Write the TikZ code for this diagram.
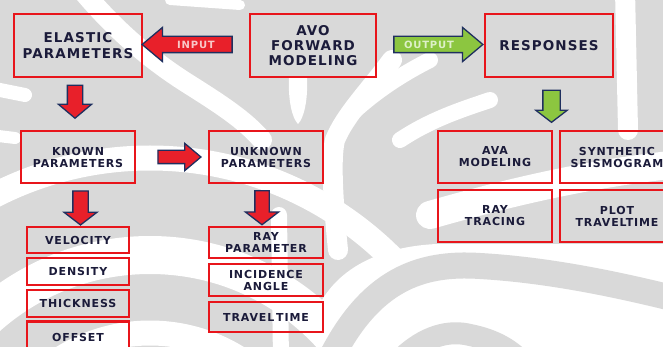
\documentclass[tikz,border=0pt]{standalone}
\usepackage{fontspec}
\setmainfont{DejaVu Sans}
\newfontfamily\boxf[LetterSpace=8]{DejaVu Sans}
\usetikzlibrary{shapes.arrows}
\definecolor{bggrey}{HTML}{D9D9D9}
\definecolor{boxred}{HTML}{E8151B}
\definecolor{navy}{HTML}{1F2F5F}
\definecolor{txt}{HTML}{1B1B3A}
\definecolor{arrred}{HTML}{E8202A}
\definecolor{arrgreen}{HTML}{8CC640}
\definecolor{inlbl}{HTML}{F8C8C8}
\definecolor{outlbl}{HTML}{DDF0C8}
\tikzset{
  box/.style={draw=boxred, line width=2.4pt, inner sep=0pt, align=center, text=txt},
  bigtext/.style={font=\boxf\bfseries\fontsize{13.5}{16}\selectfont},
  avotext/.style={font=\boxf\bfseries\fontsize{13.5}{15}\selectfont},
  smalltext/.style={font=\boxf\bfseries\fontsize{11}{12}\selectfont},
  fat/.style={single arrow, draw=navy, line width=1.3pt, inner xsep=0pt, minimum width=0pt},
  redfat/.style={fat, fill=arrred},
  greenfat/.style={fat, fill=arrgreen},
  arrlbl/.style={font=\boxf\bfseries\fontsize{10}{12}\selectfont, inner sep=0pt},
  wstripe/.style={draw=white, line cap=round},
  gstripe/.style={draw=bggrey, line cap=round}
}
\begin{document}
\begin{tikzpicture}[x=1pt,y=-1pt]
\useasboundingbox (0,0) rectangle (663,347);
\clip (0,0) rectangle (663,347);
% background watermark
\fill[bggrey] (0,0) rectangle (663,347);
\begin{scope}
% upper part
\draw[wstripe, line width=20] (80,-12) .. controls (115,30) and (150,60) .. (190,85) .. controls (220,104) and (245,120) .. (262,140);
\draw[wstripe, line width=14] (-10,88) -- (25,95);
\draw[wstripe, line width=12] (-10,135) -- (15,138);
\fill[white] (289,78) .. controls (288,100) and (292,118) .. (298,124) .. controls (304,118) and (308,100) .. (307,78) -- cycle;
\draw[wstripe, line width=20] (392,60) .. controls (370,90) and (345,115) .. (335,140) .. controls (330,160) and (334,210) .. (338,250);
\draw[wstripe, line width=16] (345,120) .. controls (370,95) and (400,75) .. (430,60);
\draw[wstripe, line width=16] (400,140) .. controls (430,120) and (460,110) .. (490,100);
\draw[wstripe, line width=20] (625,-10) -- (628,130);
\draw[wstripe, line width=10] (170,0) -- (240,5);
\draw[wstripe, line width=28] (430,215) .. controls (500,195) and (580,175) .. (670,165);
% lower left arcs
\draw[wstripe, line width=25] (150,500) circle (342);
\draw[wstripe, line width=38] (150,500) circle (245);
\draw[wstripe, line width=25] (150,500) circle (167);
\draw[wstripe, line width=16] (279,215) -- (281,360);
% lower right
\fill[white] (322,350) -- (322,300) .. controls (345,262) and (390,246) .. (437,244) -- (670,244) -- (670,350) -- cycle;
\draw[gstripe, line width=26] (330,360) .. controls (370,280) and (420,262) .. (480,266) .. controls (550,270) and (620,285) .. (680,300);
\draw[gstripe, line width=22] (400,360) .. controls (425,335) and (450,330) .. (470,335) .. controls (495,340) and (510,350) .. (520,360);
\end{scope}
% boxes
\node[box, bigtext, minimum width=127.6, minimum height=62.6] (elastic) at (78,45.5) {ELASTIC\\PARAMETERS};
\node[box, avotext, minimum width=125.6, minimum height=62.6] (avo) at (313,45.5) {AVO\\FORWARD\\MODELING};
\node[box, bigtext, minimum width=127.6, minimum height=62.6] (resp) at (549,45.5) {RESPONSES};
\node[box, smalltext, minimum width=113.6, minimum height=51.6] (known) at (78,157) {KNOWN\\PARAMETERS};
\node[box, smalltext, minimum width=113.6, minimum height=51.6] (unknown) at (266,157) {UNKNOWN\\PARAMETERS};
\node[box, smalltext, minimum width=113.6, minimum height=51.6] (ava) at (495,157) {AVA\\MODELING};
\node[box, smalltext, minimum width=113.6, minimum height=51.6] (synth) at (617,157) {SYNTHETIC\\SEISMOGRAM};
\node[box, smalltext, minimum width=113.6, minimum height=51.6] (raytr) at (495,216) {RAY\\TRACING};
\node[box, smalltext, minimum width=113.6, minimum height=51.6] (plot) at (617,216) {PLOT\\TRAVELTIME};
\node[box, smalltext, minimum width=101.6, minimum height=25.6] (velocity) at (78,240) {VELOCITY};
\node[box, smalltext, minimum width=101.6, minimum height=26.6] (density) at (78,271.5) {DENSITY};
\node[box, smalltext, minimum width=101.6, minimum height=26.6] (thickness) at (78,303.5) {THICKNESS};
\node[box, smalltext, minimum width=101.6, minimum height=33, text depth=0pt] (offset) at (78,338) {\raisebox{2pt}{OFFSET}};
\node[box, smalltext, minimum width=113.6, minimum height=30.6] (raypar) at (266,242.5) {RAY\\PARAMETER};
\node[box, smalltext, minimum width=113.6, minimum height=31.6] (incid) at (266,280) {INCIDENCE\\ANGLE};
\node[box, smalltext, minimum width=113.6, minimum height=29.6] (travel) at (266,317) {TRAVEL\,TIME};
% fat arrow connectors
\node[redfat, rotate=180, minimum height=90, inner ysep=7.5, single arrow head extend=9, single arrow tip angle=80] (inarr) at (192,44.5) {};
\node[arrlbl, text=inlbl] (inlabel) at (196,44.5) {INPUT};
\node[greenfat, minimum height=89, inner ysep=7.5, single arrow head extend=9, single arrow tip angle=80] (outarr) at (433.5,44.5) {};
\node[arrlbl, text=outlbl] (outlabel) at (429,44.5) {OUTPUT};
\node[redfat, rotate=-90, minimum height=33, inner ysep=7, single arrow head extend=9, single arrow tip angle=100] (d1) at (75,98.5) {};
\node[greenfat, rotate=-90, minimum height=32, inner ysep=8, single arrow head extend=7, single arrow tip angle=105] (d2) at (551.5,103) {};
\node[redfat, minimum height=43, inner ysep=6, single arrow head extend=7, single arrow tip angle=80] (r1) at (175.5,157) {};
\node[redfat, rotate=-90, minimum height=34, inner ysep=7, single arrow head extend=9, single arrow tip angle=105] (d3) at (80.5,205) {};
\node[redfat, rotate=-90, minimum height=34, inner ysep=6.5, single arrow head extend=9.5, single arrow tip angle=105] (d4) at (262,205) {};
\end{tikzpicture}
\end{document}
